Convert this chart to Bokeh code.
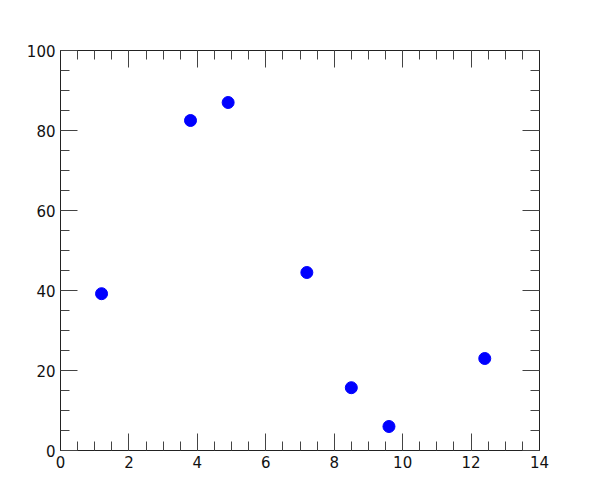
from bokeh.plotting import figure
from bokeh.models import LinearAxis, SingleIntervalTicker, Range1d
from bokeh.embed import file_html
from bokeh.resources import INLINE

x_vals = [1.2, 3.8, 4.9, 7.2, 8.5, 9.6, 12.4]
y_vals = [39.2, 82.5, 87.0, 44.5, 15.7, 6.0, 23.0]

p = figure(width=590, height=490, output_backend="svg", toolbar_location=None,
           x_range=Range1d(0, 14), y_range=Range1d(0, 100),
           x_axis_location=None, y_axis_location=None,
           min_border_left=60, min_border_right=51, min_border_top=50, min_border_bottom=40)
p.grid.visible = False
p.outline_line_color = "#222222"
p.outline_line_width = 1
p.background_fill_color = "white"
p.border_fill_color = "white"

def make_axis(interval, labels):
    a = LinearAxis(ticker=SingleIntervalTicker(interval=interval, num_minor_ticks=4))
    a.major_tick_in = 17
    a.major_tick_out = 0
    a.minor_tick_in = 9
    a.minor_tick_out = 0
    a.axis_line_color = "#222222"
    a.major_tick_line_color = "#444444"
    a.minor_tick_line_color = "#444444"
    a.major_label_text_font = "DejaVu Sans"
    a.major_label_text_font_size = "15px"
    a.major_label_text_color = "#111111"
    a.major_label_standoff = 5
    if not labels:
        a.major_label_text_color = None
        a.major_label_text_font_size = "0px"
    return a

p.add_layout(make_axis(2, True), "below")
p.add_layout(make_axis(20, True), "left")
p.add_layout(make_axis(2, False), "above")
p.add_layout(make_axis(20, False), "right")

p.scatter(x_vals, y_vals, size=12, color="#0000ff", line_color="#0000ff")

open("out.html", "w").write(file_html(p, INLINE))
